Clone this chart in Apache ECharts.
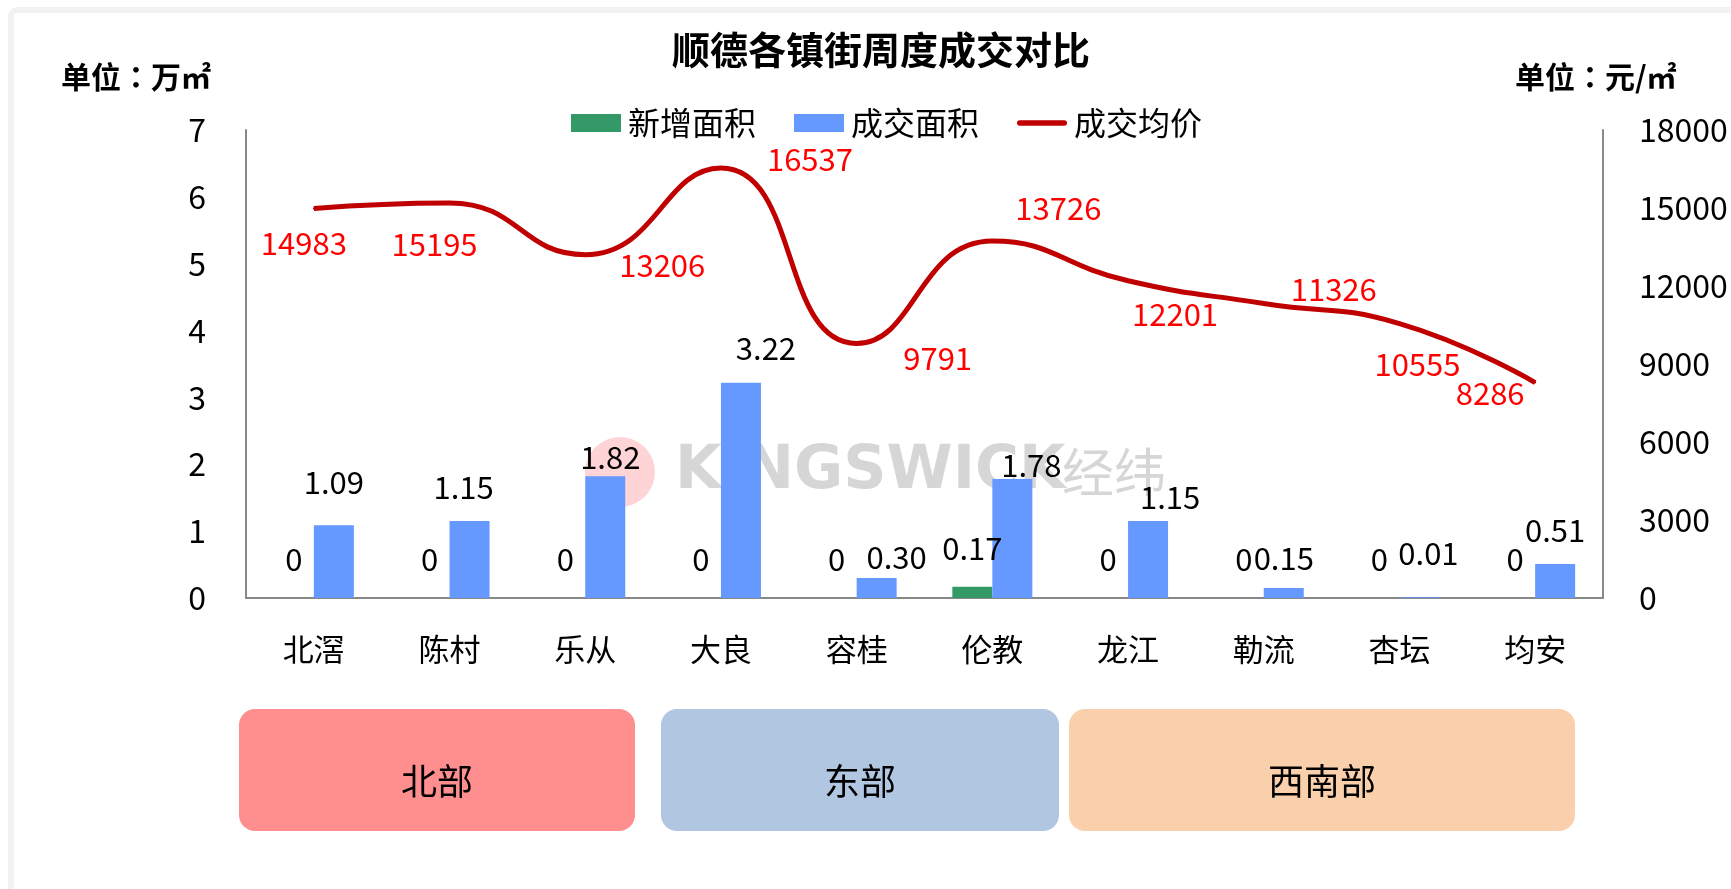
<!DOCTYPE html>
<html>
<head>
<meta charset="utf-8">
<script src="https://cdn.jsdelivr.net/npm/echarts@6/dist/echarts.min.js"></script>
<style>
html,body{margin:0;padding:0;background:#fff;}
#chart{width:1731px;height:889px;}
</style>
</head>
<body>
<div id="chart"></div>
<script>
// ---- data ----
const categories = ['北滘', '陈村', '乐从', '大良', '容桂', '伦教', '龙江', '勒流', '杏坛', '均安'];
const newArea = [0, 0, 0, 0, 0, 0.17, 0, 0, 0, 0];
const dealArea = [1.09, 1.15, 1.82, 3.22, 0.30, 1.78, 1.15, 0.15, 0.01, 0.51];
const avgPrice = [14983, 15195, 13206, 16537, 9791, 13726, 12201, 11326, 10555, 8286];
const leftTicks = { min: 0, max: 7, interval: 1 };
const rightTicks = { min: 0, max: 18000, interval: 3000 };
const regions = ['北部', '东部', '西南部'];

// ---- layout (label nudges, not data) ----
const dealLabelShift = [[0,-27],[-6,-18],[5,-4],[25,-19],[20,-5],[19,2],[22,-8],[0,-14],[9,-29],[0,-18]];
const priceLabelShift = [[-10,35],[-15,41],[77,11],[89,-9],[81,15],[66,-33],[47,33],[70,-14],[18,41],[-45,11]];

const FONT = '"Noto Sans CJK SC", "Noto Sans", sans-serif';
const chart = echarts.init(document.getElementById('chart'));

const regionBoxes = [
  { x: 239, w: 396, fill: '#FF8F8F' },
  { x: 661, w: 398, fill: '#B0C6E1' },
  { x: 1069, w: 506, fill: '#FAD0AC' }
];
const regionGraphics = [];
regionBoxes.forEach((b, i) => {
  regionGraphics.push({ type: 'rect', z: 1, silent: true,
    shape: { x: b.x, y: 709, width: b.w, height: 122, r: 16 }, style: { fill: b.fill } });
  regionGraphics.push({ type: 'text', z: 2, silent: true, x: b.x + b.w / 2, y: 781,
    style: { text: regions[i], fontSize: 36, fontFamily: FONT, fill: '#000', align: 'center', verticalAlign: 'middle' } });
});

const option = {
  backgroundColor: '#ffffff',
  textStyle: { fontFamily: FONT },
  animation: false,
  legend: {
    left: 566, top: 102,
    itemWidth: 50, itemHeight: 18, itemGap: 38,
    textStyle: { fontSize: 32, color: '#000', fontFamily: FONT, padding: [0, 0, 0, 2] },
    data: [
      { name: '新增面积', icon: 'rect' },
      { name: '成交面积', icon: 'rect' },
      { name: '成交均价', icon: 'path://M3,0 H51 A3,3 0 0 1 51,6 H3 A3,3 0 0 1 3,0 Z' }
    ]
  },
  grid: { left: 246, right: 128, top: 130, bottom: 291, containLabel: false },
  xAxis: {
    type: 'category',
    data: categories,
    axisLine: { show: true, lineStyle: { color: '#888888', width: 2 } },
    axisTick: { show: false },
    axisLabel: { fontSize: 31, color: '#000', margin: 36, fontFamily: FONT }
  },
  yAxis: [
    {
      type: 'value', min: leftTicks.min, max: leftTicks.max, interval: leftTicks.interval,
      axisLine: { show: true, lineStyle: { color: '#888888', width: 2 } },
      axisTick: { show: false }, splitLine: { show: false },
      axisLabel: { fontSize: 32, color: '#000', margin: 40, fontFamily: FONT, formatter: v => String(v) }
    },
    {
      type: 'value', min: rightTicks.min, max: rightTicks.max, interval: rightTicks.interval,
      position: 'right',
      axisLine: { show: true, lineStyle: { color: '#888888', width: 2 } },
      axisTick: { show: false }, splitLine: { show: false },
      axisLabel: { fontSize: 32, color: '#000', margin: 36, fontFamily: FONT, formatter: v => String(v) }
    }
  ],
  series: [
    {
      name: '新增面积', type: 'bar', yAxisIndex: 0,
      barWidth: 40, barGap: '0%', z: 3,
      itemStyle: { color: '#339966' },
      label: {
        show: true, position: 'top', distance: 23,
        fontSize: 31, color: '#000', fontFamily: FONT,
        formatter: p => String(p.value)
      },
      data: newArea
    },
    {
      name: '成交面积', type: 'bar', yAxisIndex: 0,
      barWidth: 40, barGap: '0%', z: 3,
      itemStyle: { color: '#6699FF' },
      data: dealArea.map((v, i) => ({
        value: v,
        label: {
          show: true, position: 'top', distance: 0,
          offset: dealLabelShift[i],
          fontSize: 31, color: '#000', fontFamily: FONT,
          formatter: p => Number(p.value).toFixed(2)
        }
      }))
    },
    {
      name: '成交均价', type: 'line', yAxisIndex: 1,
      smooth: 0.5, z: 4,
      symbol: 'circle', symbolSize: 2, showSymbol: true,
      lineStyle: { color: '#C00000', width: 5 },
      itemStyle: { color: '#C00000' },
      data: avgPrice.map((v, i) => ({
        value: v,
        label: {
          show: true, position: 'inside',
          offset: priceLabelShift[i],
          fontSize: 31, color: '#FF0000', fontFamily: FONT
        }
      }))
    }
  ],
  graphic: [
    // frame
    { type: 'rect', z: -10, silent: true,
      shape: { x: 11, y: 10, width: 1800, height: 1000, r: 6 },
      style: { fill: 'none', stroke: '#F2F2F2', lineWidth: 6 } },
    // watermark
    { type: 'circle', z: 0, silent: true,
      shape: { cx: 620, cy: 472, r: 35 },
      style: { fill: '#FFD4D7' } },
    { type: 'text', z: 0, silent: true, x: 675, y: 472,
      style: { text: 'KINGSWICK', fontSize: 60, fontWeight: 'bold', fontFamily: '"DejaVu Sans", sans-serif', fill: '#D6D6D6', verticalAlign: 'middle' } },
    { type: 'text', z: 0, silent: true, x: 1062, y: 472,
      style: { text: '经纬', fontSize: 52, fontFamily: FONT, fill: '#D6D6D6', verticalAlign: 'middle' } },
    // title & units
    { type: 'text', z: 10, silent: true, x: 881, y: 50,
      style: { text: '顺德各镇街周度成交对比', fontSize: 38, fontWeight: 'bold', fontFamily: FONT, fill: '#000', align: 'center', verticalAlign: 'middle' } },
    { type: 'text', z: 10, silent: true, x: 61, y: 77,
      style: { text: '单位：万㎡', fontSize: 30, fontWeight: 'bold', fontFamily: '"Noto Sans CJK TC", "Noto Sans CJK SC", sans-serif', fill: '#000', verticalAlign: 'middle' } },
    { type: 'text', z: 10, silent: true, x: 1515, y: 77,
      style: { text: '单位：元/㎡', fontSize: 30, fontWeight: 'bold', fontFamily: '"Noto Sans CJK TC", "Noto Sans CJK SC", sans-serif', fill: '#000', verticalAlign: 'middle' } }
  ].concat(regionGraphics)
};
chart.setOption(option);
</script>
</body>
</html>
